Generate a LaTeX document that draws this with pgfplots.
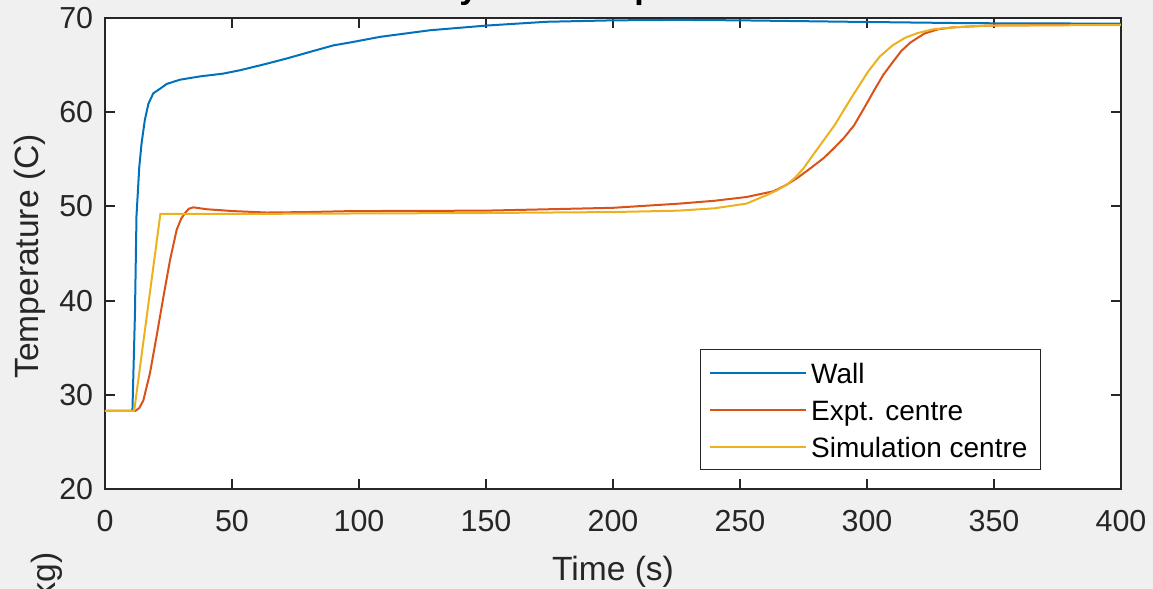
\documentclass[border=0pt]{standalone}
\usepackage{fontspec}
\setmainfont{Liberation Sans}
\usepackage{pgfplots}
\pgfplotsset{compat=1.18}

\definecolor{bgcol}{HTML}{F0F0F0}
\definecolor{axcol}{HTML}{262626}
\definecolor{mblue}{HTML}{0072BD}
\definecolor{morange}{HTML}{D95319}
\definecolor{myellow}{HTML}{EDB120}

\begin{document}
\begin{tikzpicture}
% grey figure background (picture is a crop of a larger figure)
\fill[bgcol] (-52.5pt,-50pt) rectangle (524pt,244.5pt);
\begin{axis}[
    scale only axis,
    width=508pt, height=235.5pt,
    xmin=0, xmax=400, ymin=20, ymax=70,
    xtick={0,50,...,400}, ytick={20,30,...,70},
    axis background/.style={fill=white},
    axis line style={color=axcol, line width=1pt},
    tick style={color=axcol, line width=1pt},
    major tick length=5pt,
    /pgf/number format/assume math mode=true,
    tick label style={font=\fontsize{15.2}{18}\selectfont, text=axcol},
    xticklabel style={yshift=-6.9pt},
    yticklabel style={xshift=-2.4pt},
    title={System Temperatures},
    title style={at={(axis description cs:0.5,1)}, anchor=base, yshift=4pt,
        font=\fontsize{17}{20}\selectfont\bfseries},
    xlabel={Time (s)},
    xlabel style={at={(axis description cs:0.5,-0.1762)}, anchor=center,
        font=\fontsize{16.8}{20}\selectfont, text=axcol},
    ylabel={Temperature (C)},
    ylabel style={at={(axis description cs:-0.0738,0.4936)}, anchor=center,
        font=\fontsize{16.8}{20}\selectfont, text=axcol},
    legend image code/.code={\draw[#1] (0pt,0pt) -- (48pt,0pt);},
    legend style={at={(axis description cs:0.9213,0.0403)}, anchor=south east,
        draw=axcol, line width=0.5pt, fill=white, inner xsep=4.5pt, inner ysep=2.5pt,
        row sep=0.5pt, font=\fontsize{14}{16}\selectfont,
        nodes={inner sep=2pt, text height=12.5pt, text depth=1.5pt}},
    legend cell align=left,
    every axis plot/.append style={line width=1pt},
]
\addplot[mblue] coordinates {
(0,28.3) (10.8,28.3) (11.8,38.7) (12.4,49.0) (13.5,54.2) (14.4,56.7)
(15.7,59.2) (17.1,60.9) (19.0,62.0) (21.7,62.5) (24.3,63.0) (29.5,63.45)
(37.4,63.8) (46.6,64.1) (53.1,64.45) (63.7,65.15) (71.5,65.7) (82,66.5)
(90,67.1) (96.5,67.4) (108.3,68.0) (128,68.7) (150.3,69.2) (173.9,69.6)
(200,69.75) (226,69.8) (250,69.75) (293,69.6) (340,69.45) (400,69.4)
};
\addlegendentry{Wall}
\addplot[morange] coordinates {
(0,28.3) (12,28.3) (13.5,28.6) (15.1,29.4) (17.7,32.3) (20.3,36.2)
(23,40.4) (25.6,44.3) (28.2,47.5) (30,48.7) (31.5,49.3) (33,49.75)
(34.8,49.9) (40,49.7) (50.5,49.5) (63.7,49.35) (80,49.4) (96.5,49.5)
(150,49.55) (200,49.85) (226.4,50.3) (240,50.6) (252.6,51.0) (263.1,51.6)
(268.4,52.3) (273,53.1) (278,54.1) (282.8,55.1) (286.7,56.1) (291,57.3)
(294.9,58.6) (299,60.5) (303.2,62.5) (306.5,64.0) (310.1,65.3) (313.5,66.5)
(317.1,67.4) (322.6,68.35) (328,68.8) (333.7,69.0) (347.6,69.2) (400,69.3)
};
\addlegendentry{Expt. centre}
\addplot[myellow] coordinates {
(0,28.3) (11.5,28.3) (21.8,49.2) (50,49.2) (100,49.25) (150,49.3)
(200,49.4) (226,49.55) (240,49.8) (252.6,50.3) (260.5,51.2) (264.5,51.7)
(268.4,52.3) (271.5,53.0) (274.9,54.0) (280.2,56.0) (287.2,58.6) (294,61.6)
(300.4,64.3) (305,65.9) (310.1,67.1) (315,67.9) (319.9,68.4) (326,68.8)
(333.7,69.0) (347.6,69.2) (400,69.25)
};
\addlegendentry{Simulation centre}
\end{axis}
% label of the subplot below, mostly cut off
\node[rotate=90, anchor=east, inner sep=0pt, font=\fontsize{16.8}{20}\selectfont,
    text=axcol] at (-29pt,-31.5pt) {Mass (kg)};
\pgfresetboundingbox
\path[use as bounding box] (-52.5pt,-50pt) rectangle (524pt,244.5pt);
\end{tikzpicture}
\end{document}
